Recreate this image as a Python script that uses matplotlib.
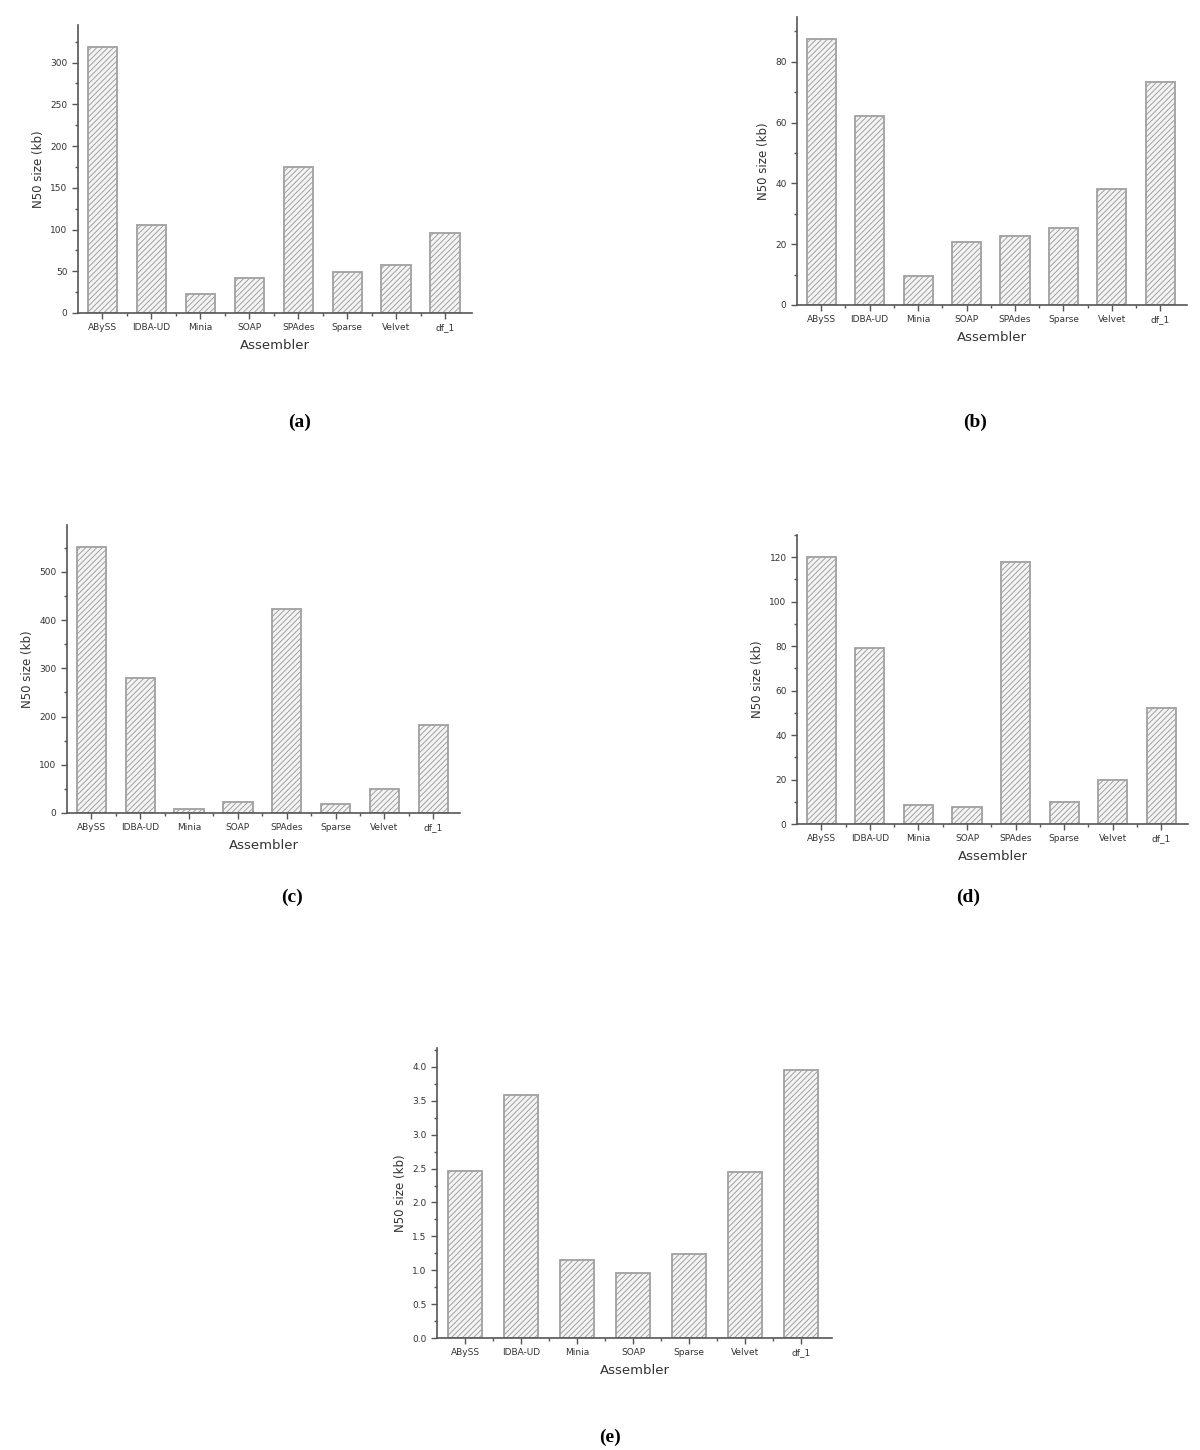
import matplotlib
matplotlib.use("Agg")
import matplotlib.pyplot as plt
from matplotlib.ticker import MultipleLocator, AutoMinorLocator
import numpy as np

plt.rcParams['hatch.color'] = '#d6d6d6'
plt.rcParams['hatch.linewidth'] = 0.7

assemblers8 = ["ABySS", "IDBA-UD", "Minia", "SOAP", "SPAdes", "Sparse", "Velvet", "df_1"]
assemblers7 = ["ABySS", "IDBA-UD", "Minia", "SOAP", "Sparse", "Velvet", "df_1"]

n50_a = [319, 105, 23, 42, 175, 49, 58, 96]
n50_b = [87.5, 62.2, 9.6, 20.7, 22.7, 25.3, 38.2, 73.4]
n50_c = [552, 280, 9, 22, 423, 18, 50, 183]
n50_d = [120, 79, 8.7, 7.8, 118, 10, 20, 52]
n50_e = [2.46, 3.59, 1.15, 0.96, 1.24, 2.45, 3.96]

panel_labels = ["(a)", "(b)", "(c)", "(d)", "(e)"]

W, H = 1200, 1450
fig = plt.figure(figsize=(12, 14.5), dpi=100)

def rect(l, t, r, b):
    return [l / W, 1 - b / H, (r - l) / W, (b - t) / H]

specs = [
    (rect(78, 25, 472, 313), assemblers8, n50_a, 345, 50, (300, 422)),
    (rect(797, 17, 1187, 305), assemblers8, n50_b, 94.7, 20, (975, 422)),
    (rect(67, 525, 460, 813), assemblers8, n50_c, 597, 100, (292, 897)),
    (rect(797, 535, 1188, 824), assemblers8, n50_d, 130, 20, (968, 897)),
    (rect(437, 1048, 832, 1338), assemblers7, n50_e, 4.28, 0.5, (610, 1437)),
]

axis_col = '#555555'
for (pos, cats, vals, ytop, major, lblpos), plabel in zip(specs, panel_labels):
    ax = fig.add_axes(pos)
    x = np.arange(len(cats))
    ax.bar(x, vals, width=0.6, color='#f4f4f4', edgecolor='#a0a0a0',
           linewidth=1.3, hatch='//////', zorder=2)
    ax.set_xlim(-0.5, len(cats) - 0.45)
    ax.set_ylim(0, ytop)
    ax.yaxis.set_major_locator(MultipleLocator(major))
    ax.yaxis.set_minor_locator(AutoMinorLocator(2))
    ax.set_xticks(x)
    ax.set_xticks(x[:-1] + 0.5, minor=True)
    ax.set_xticklabels(cats, fontsize=6.5, color='#333333')
    ax.tick_params(axis='y', labelsize=6.5, colors='#333333')
    for s in ['top', 'right']:
        ax.spines[s].set_visible(False)
    for s in ['left', 'bottom']:
        ax.spines[s].set_color(axis_col)
        ax.spines[s].set_linewidth(1.2)
    ax.tick_params(which='major', length=4, width=1, color=axis_col, direction='out')
    ax.tick_params(which='minor', length=2.5, width=1, color=axis_col, direction='out')
    if ytop < 10:
        ax.yaxis.set_major_formatter(matplotlib.ticker.FormatStrFormatter('%.1f'))
    ax.set_ylabel("N50 size (kb)", fontsize=8.5, color='#333333', labelpad=4)
    ax.set_xlabel("Assembler", fontsize=9.5, color='#333333', labelpad=5)
    fig.text(lblpos[0] / W, 1 - lblpos[1] / H, plabel, ha='center', va='center',
             fontsize=14, fontweight='bold', family='Liberation Serif')

fig.savefig("out.png", dpi=100, facecolor='white')
